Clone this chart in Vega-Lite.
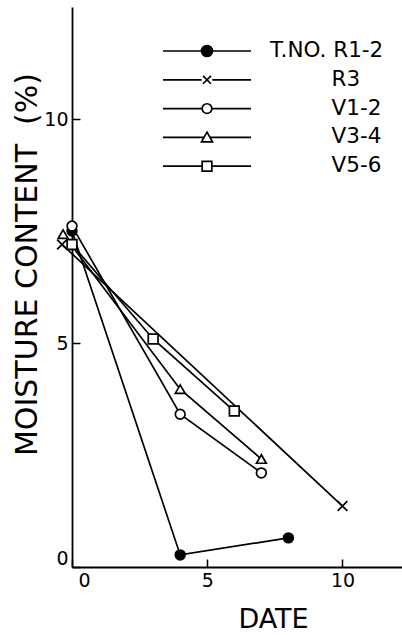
{
  "$schema": "https://vega.github.io/schema/vega-lite/v6.json",
  "width": 330,
  "height": 560,
  "autosize": {"type": "none"},
  "padding": {"left": 72, "top": 7, "right": 0, "bottom": 68},
  "background": "white",
  "config": {
    "view": {"stroke": null},
    "font": "DejaVu Sans",
    "axis": {
      "grid": false,
      "domainColor": "black",
      "domainWidth": 1.8,
      "tickColor": "black",
      "tickWidth": 1.5,
      "tickSize": -8,
      "labelColor": "black",
      "labelFont": "DejaVu Sans",
      "labelFontSize": 19,
      "titleColor": "black",
      "titleFont": "DejaVu Sans",
      "titleFontWeight": "normal",
      "titleFontSize": 27
    },
    "legend": {
      "orient": "none",
      "legendX": 90,
      "legendY": 34,
      "padding": 0,
      "symbolSize": 7744,
      "symbolStrokeColor": "black",
      "symbolStrokeWidth": 1.7,
      "symbolOpacity": 1,
      "clipHeight": 20,
      "labelFont": "DejaVu Sans",
      "labelFontSize": 21.5,
      "labelColor": "black",
      "labelOffset": 18,
      "rowPadding": 6.8
    }
  },
  "data": {
    "values": [
      {"series": "R1-2", "day": 0, "moisture": 7.5},
      {"series": "R1-2", "day": 4, "moisture": 0.27},
      {"series": "R1-2", "day": 8, "moisture": 0.65},
      {"series": "R3", "day": -0.37, "moisture": 7.2},
      {"series": "R3", "day": 10, "moisture": 1.36},
      {"series": "V1-2", "day": 0, "moisture": 7.61},
      {"series": "V1-2", "day": 4, "moisture": 3.41},
      {"series": "V1-2", "day": 7, "moisture": 2.1},
      {"series": "V3-4", "day": -0.33, "moisture": 7.43},
      {"series": "V3-4", "day": 4, "moisture": 3.97},
      {"series": "V3-4", "day": 7, "moisture": 2.41},
      {"series": "V5-6", "day": 0, "moisture": 7.2},
      {"series": "V5-6", "day": 3, "moisture": 5.09},
      {"series": "V5-6", "day": 6, "moisture": 3.48}
    ]
  },
  "encoding": {
    "x": {
      "field": "day",
      "type": "quantitative",
      "scale": {"domain": [0, 12.2], "nice": false, "zero": false},
      "axis": {
        "title": "DATE",
        "values": [0, 5, 10],
        "labelPadding": 12,
        "labelOffset": {"condition": {"test": "datum.value === 0", "value": 6}, "value": 0},
        "titleX": 201,
        "titleY": 60,
        "titleBaseline": "alphabetic"
      }
    },
    "y": {
      "field": "moisture",
      "type": "quantitative",
      "scale": {"domain": [0, 12.5], "nice": false},
      "axis": {
        "title": "MOISTURE CONTENT\u00a0 (%)",
        "titleFontSize": 30,
        "values": [0, 5, 10],
        "labelPadding": 12,
        "labelOffset": {"condition": {"test": "datum.value === 0", "value": -9}, "value": 0},
        "titleX": -36,
        "titleY": 257,
        "titleAlign": "center",
        "titleBaseline": "alphabetic"
      }
    }
  },
  "layer": [
    {
      "mark": {"type": "line", "color": "black", "strokeWidth": 1.7},
      "encoding": {
        "detail": {"field": "series", "type": "nominal"},
        "order": {"field": "day", "type": "quantitative"}
      }
    },
    {
      "mark": {"type": "point", "filled": true, "stroke": "black", "strokeWidth": 1.7, "size": 95, "opacity": 1},
      "encoding": {
        "shape": {
          "field": "series",
          "type": "nominal",
          "scale": {
            "domain": ["R1-2", "R3", "V1-2", "V3-4", "V5-6"],
            "range": ["circle", "M-1,-1L1,1M-1,1L1,-1", "circle", "triangle-up", "square"]
          },
          "legend": null
        },
        "fill": {
          "field": "series",
          "type": "nominal",
          "scale": {
            "domain": ["R1-2", "R3", "V1-2", "V3-4", "V5-6"],
            "range": ["black", "white", "white", "white", "white"]
          },
          "legend": null
        }
      }
    },
    {
      "transform": [{"filter": "false"}],
      "mark": {"type": "point", "filled": true, "stroke": "black", "strokeWidth": 1.7, "opacity": 1},
      "encoding": {
        "shape": {
          "field": "series",
          "type": "nominal",
          "scale": {
            "domain": ["R1-2", "R3", "V1-2", "V3-4", "V5-6"],
            "range": [
              "M-1,0H-0.125M0.125,0H1M0.125,0A0.125,0.125,0,1,1,-0.125,0A0.125,0.125,0,1,1,0.125,0Z",
              "M-1,0H-0.12M0.12,0H1M-0.09,-0.09L0.09,0.09M-0.09,0.09L0.09,-0.09",
              "M-1,0H-0.11M0.11,0H1M0.11,0A0.11,0.11,0,1,1,-0.11,0A0.11,0.11,0,1,1,0.11,0Z",
              "M-1,0H-0.08M0.08,0H1M0,-0.12L0.125,0.1L-0.125,0.1Z",
              "M-1,0H-0.11M0.11,0H1M-0.11,-0.11H0.11V0.11H-0.11Z"
            ]
          },
          "legend": {
            "title": null,
            "labelExpr": "datum.value === 'R1-2' ? 'T.NO. R1-2' : '\\u200b\\u00a0\\u00a0\\u00a0\\u00a0\\u00a0\\u00a0\\u00a0\\u00a0\\u00a0' + datum.label",
            "encode": {
              "symbols": {
                "update": {
                  "stroke": {"value": "black"},
                  "strokeWidth": {"value": 1.7},
                  "opacity": {"value": 1}
                }
              }
            }
          }
        },
        "fill": {
          "field": "series",
          "type": "nominal",
          "scale": {
            "domain": ["R1-2", "R3", "V1-2", "V3-4", "V5-6"],
            "range": ["black", "white", "white", "white", "white"]
          },
          "legend": {
            "title": null,
            "labelExpr": "datum.value === 'R1-2' ? 'T.NO. R1-2' : '\\u200b\\u00a0\\u00a0\\u00a0\\u00a0\\u00a0\\u00a0\\u00a0\\u00a0\\u00a0' + datum.label",
            "encode": {
              "symbols": {
                "update": {
                  "stroke": {"value": "black"},
                  "strokeWidth": {"value": 1.7},
                  "opacity": {"value": 1}
                }
              }
            }
          }
        }
      }
    }
  ],
  "resolve": {"scale": {"shape": "independent", "fill": "independent"}}
}
